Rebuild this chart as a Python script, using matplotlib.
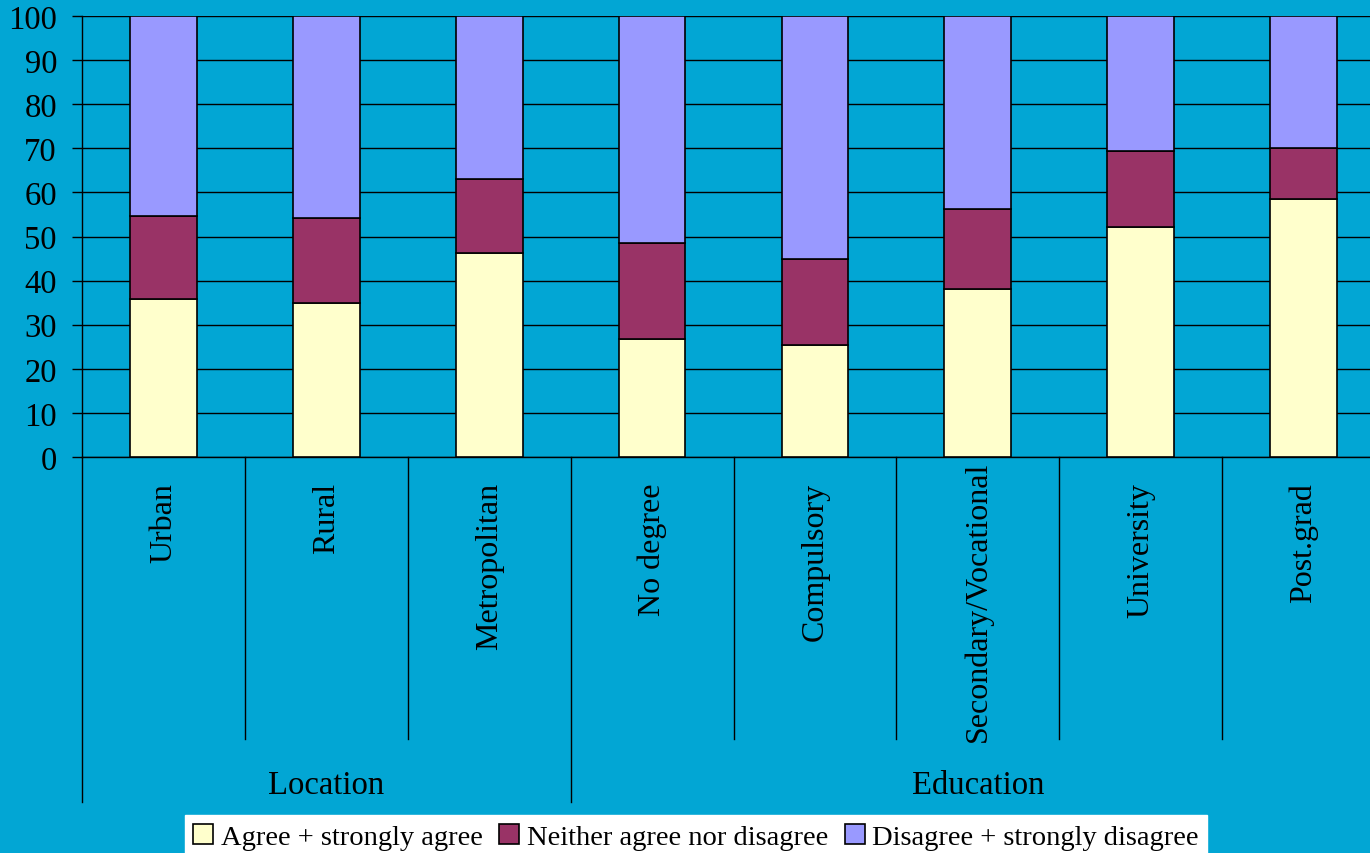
import matplotlib.pyplot as plt
import numpy as np

plt.rcParams['font.family'] = ['Liberation Serif', 'DejaVu Serif']

# data (percent)
categories = ['Urban', 'Rural', 'Metropolitan', 'No degree', 'Compulsory',
              'Secondary/Vocational', 'University', 'Post.grad']
groups = ['Location', 'Education']
group_sizes = [3, 5]
agree = [35.8, 34.9, 46.2, 26.7, 25.5, 38.0, 52.2, 58.5]
neither = [18.8, 19.3, 16.9, 21.9, 19.5, 18.3, 17.1, 11.6]
disagree = [100 - a - n for a, n in zip(agree, neither)]
series_names = ['Agree + strongly agree', 'Neither agree nor disagree',
                'Disagree + strongly disagree']
colors = ['#FFFFCC', '#993366', '#9999FF']
bg = '#02A6D4'

fig = plt.figure(figsize=(13.7, 8.54), dpi=100, facecolor=bg)
ax = fig.add_axes([82 / 1370, 1 - 458 / 854, 1303 / 1370, 441 / 854])
ax.set_facecolor(bg)

x = np.arange(len(categories))
w = 0.41
bottom = np.zeros(len(categories))
handles = []
for vals, col, name in zip([agree, neither, disagree], colors, series_names):
    b = ax.bar(x, vals, w, bottom=bottom, color=col, edgecolor='black',
               linewidth=1.2, label=name, zorder=3)
    handles.append(b)
    bottom += np.array(vals)

ax.set_xlim(-0.5, len(categories) - 0.5)
ax.set_ylim(0, 100)
ax.set_yticks(range(0, 101, 10))
ax.tick_params(axis='y', labelsize=23.5, length=7, width=1, pad=11, colors='black')
ax.set_xticks([])
ax.grid(axis='y', color='black', linewidth=1)
ax.set_axisbelow(True)
for s in ['top', 'right']:
    ax.spines[s].set_visible(False)
ax.spines['left'].set_linewidth(1)
ax.spines['bottom'].set_linewidth(1)

# hierarchical category axis
trans = ax.get_xaxis_transform()
inner_end = -0.639
labels = []
for i, c in enumerate(categories):
    t = ax.text(i, -0.057, c, rotation=90, ha='center', va='top', fontsize=23,
                transform=trans)
    labels.append(t)
group_edges = np.cumsum([0] + group_sizes) - 0.5
for i in range(len(categories) + 1):
    xe = i - 0.5
    y_end = -0.782 if xe in group_edges else inner_end
    ax.plot([xe, xe], [0, y_end], color='black', linewidth=1,
            transform=trans, clip_on=False)
for g, lo, hi in zip(groups, group_edges[:-1], group_edges[1:]):
    ax.text((lo + hi) / 2, -0.744, g, ha='center', va='center', fontsize=23.5,
            transform=trans)

# long labels are pushed up so they stay above the end of the separators
fig.canvas.draw()
r = fig.canvas.get_renderer()
ax_h = ax.get_window_extent(r).height
ax_y0 = ax.get_window_extent(r).y0
for t in labels:
    bb = t.get_window_extent(r)
    low = (bb.y0 - ax_y0) / ax_h
    if low < inner_end - 0.005:
        shift = inner_end - 0.005 - low
        xx, yy = t.get_position()
        t.set_position((xx, yy + shift))

leg = fig.legend(handles=handles, loc='lower center', bbox_to_anchor=(0.508, -0.006),
                 ncol=3, fontsize=20.5, frameon=True, fancybox=False, framealpha=1,
                 borderpad=0.3, handlelength=0.7, handleheight=0.7,
                 handletextpad=0.25, columnspacing=0.6, borderaxespad=0)
leg.get_frame().set_facecolor('white')
leg.get_frame().set_edgecolor('white')

fig.savefig('out.png', dpi=100, facecolor=bg)
